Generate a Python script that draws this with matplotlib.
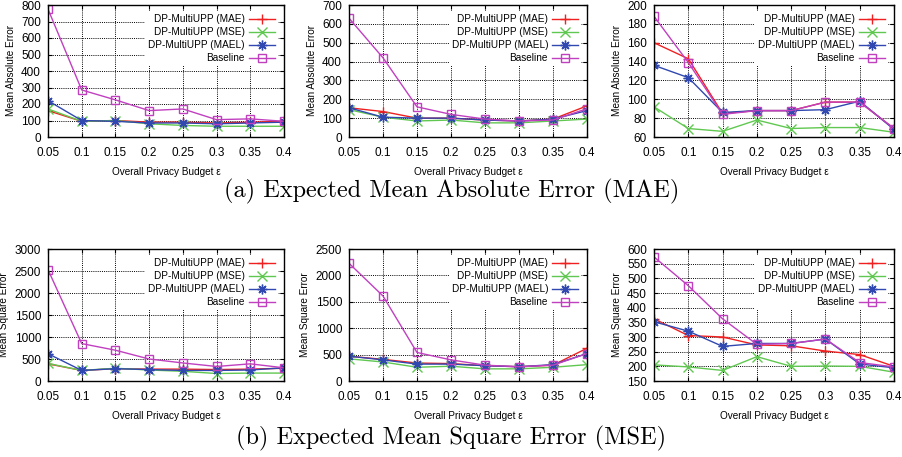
import numpy as np
import matplotlib
matplotlib.use("Agg")
import matplotlib.pyplot as plt

plt.rcParams['font.family'] = ['Liberation Sans', 'DejaVu Sans']

eps = [0.05, 0.1, 0.15, 0.2, 0.25, 0.3, 0.35, 0.4]
eps_labels = ['0.05', '0.1', '0.15', '0.2', '0.25', '0.3', '0.35', '0.4']
series_names = ['DP-MultiUPP (MAE)', 'DP-MultiUPP (MSE)', 'DP-MultiUPP (MAEL)', 'Baseline']

# MAE row
mae1_mae = [160, 95, 100, 90, 90, 85, 90, 95]
mae1_mse = [170, 95, 100, 80, 70, 65, 65, 65]
mae1_mael = [220, 100, 95, 85, 85, 80, 85, 90]
mae1_base = [775, 285, 225, 160, 170, 105, 110, 95]

mae2_mae = [155, 135, 100, 100, 90, 85, 95, 165]
mae2_mse = [145, 105, 85, 90, 75, 75, 85, 95]
mae2_mael = [155, 105, 100, 100, 90, 85, 95, 140]
mae2_base = [630, 420, 160, 120, 95, 85, 90, 150]

mae3_mae = [160, 143, 85, 88, 88, 97, 97, 69]
mae3_mse = [92, 69, 66, 78, 69, 70, 70, 65]
mae3_mael = [136, 123, 86, 88, 88, 89, 98, 68]
mae3_base = [188, 139, 84, 88, 88, 97, 97, 69]

# MSE row
mse1_mae = [390, 240, 280, 270, 270, 260, 270, 290]
mse1_mse = [400, 240, 290, 250, 220, 170, 180, 180]
mse1_mael = [620, 240, 280, 260, 240, 240, 250, 300]
mse1_base = [2530, 850, 700, 500, 410, 330, 390, 300]

mse2_mae = [470, 410, 340, 330, 290, 270, 300, 620]
mse2_mse = [420, 360, 260, 280, 230, 230, 260, 310]
mse2_mael = [470, 400, 320, 320, 290, 270, 310, 520]
mse2_base = [2230, 1610, 540, 400, 300, 270, 300, 520]

mse3_mae = [362, 305, 300, 273, 270, 252, 240, 200]
mse3_mse = [205, 198, 186, 233, 200, 201, 200, 180]
mse3_mael = [352, 320, 268, 278, 278, 293, 208, 195]
mse3_base = [573, 475, 362, 275, 278, 293, 213, 198]

panels = [
    ([mae1_mae, mae1_mse, mae1_mael, mae1_base], 'Mean Absolute Error', (0, 800), 100),
    ([mae2_mae, mae2_mse, mae2_mael, mae2_base], 'Mean Absolute Error', (0, 700), 100),
    ([mae3_mae, mae3_mse, mae3_mael, mae3_base], 'Mean Absolute Error', (60, 200), 20),
    ([mse1_mae, mse1_mse, mse1_mael, mse1_base], 'Mean Square Error', (0, 3000), 500),
    ([mse2_mae, mse2_mse, mse2_mael, mse2_base], 'Mean Square Error', (0, 2500), 500),
    ([mse3_mae, mse3_mse, mse3_mael, mse3_base], 'Mean Square Error', (150, 600), 50),
]

colors = ['#f02020', '#60c850', '#3048b0', '#c040c0']
markers = ['+', 'x', (8, 2, 0), 's']

W, H = 903, 457
lefts = [48, 349, 654]
widths = [236, 238, 240]
tops = [5, 249]
ax_h = 132

fig = plt.figure(figsize=(W / 100, H / 100), dpi=100)

for i, (data, ylabel, ylim, step) in enumerate(panels):
    row, col = divmod(i, 3)
    ax = fig.add_axes([lefts[col] / W, 1 - (tops[row] + ax_h) / H, widths[col] / W, ax_h / H])
    for vals, name, c, m in zip(data, series_names, colors, markers):
        ax.plot(eps, vals, color=c, marker=m, markersize=7 if m != 's' else 5.5,
                markerfacecolor='none' if m == 's' else c, markeredgewidth=1.0,
                linewidth=1.0, label=name)
    ax.set_xlim(0.05, 0.4)
    ax.set_ylim(*ylim)
    ax.set_xticks(eps)
    ax.set_xticklabels(eps_labels)
    ax.set_yticks(np.arange(ylim[0], ylim[1] + step / 2, step))
    ax.tick_params(direction='in', top=True, right=True, labelsize=8.5, length=3)
    ax.tick_params(axis='x', pad=7)
    ax.tick_params(axis='y', pad=5)
    ax.grid(True, color='black', linestyle=(0, (1, 1.2)), linewidth=0.7)
    for s in ax.spines.values():
        s.set_linewidth(1.0)
    ax.set_ylabel(ylabel, fontsize=7.2, labelpad=4)
    ax.set_xlabel('Overall Privacy Budget ε', fontsize=7.2, labelpad=6)
    leg = ax.legend(loc='upper right', fontsize=7.2, markerfirst=False, frameon=True,
                    fancybox=False, edgecolor='none', framealpha=1.0, handlelength=2.6,
                    borderaxespad=0.6, labelspacing=0.3, borderpad=0.3, handletextpad=0.4)
    for t in leg.get_texts():
        t.set_ha('right')

fig.text(0.5, 1 - 191 / H, '(a) Expected Mean Absolute Error (MAE)', ha='center', va='center',
         family=['cmr10', 'DejaVu Serif'], fontsize=17.5)
fig.text(0.5, 1 - 438 / H, '(b) Expected Mean Square Error (MSE)', ha='center', va='center',
         family=['cmr10', 'DejaVu Serif'], fontsize=17.5)

fig.savefig('out.png', dpi=100)
